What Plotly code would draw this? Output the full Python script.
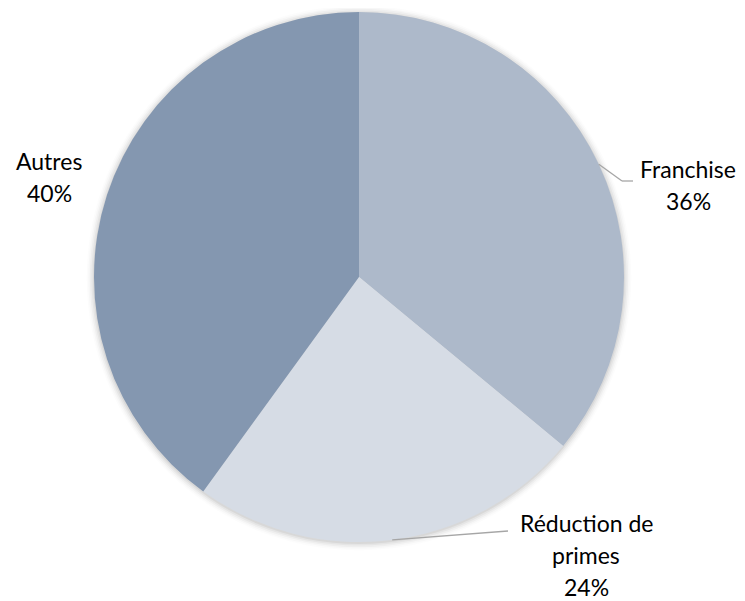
import math
import plotly.graph_objects as go

# ---- data ----
labels = ["Franchise", "Réduction de primes", "Autres"]
label_lines = [["Franchise"], ["Réduction de", "primes"], ["Autres"]]
values = [36, 24, 40]
colors = ["#ADB9CA", "#D6DCE5", "#8497B0"]

# ---- layout constants (pixels) ----
W, H = 745, 601
OFF = 8  # page body margin offset
CX, CY, R = 359 - OFF, 277 - OFF, 265
FONT = dict(family="Lato, Open Sans, sans-serif", size=23, color="#000000")
LINE_H = 32

def px(x):
    return x / W

def py(y):
    return 1 - y / H

fig = go.Figure()
fig.add_trace(go.Pie(
    labels=labels, values=values, sort=False, direction="clockwise", rotation=0,
    marker=dict(colors=colors, line=dict(width=0)),
    textinfo="none", hoverinfo="label+percent", showlegend=False,
    domain=dict(x=[px(CX - R), px(CX + R)], y=[py(CY + R), py(CY - R)]),
))

shapes = []
# soft shadow halo behind the pie
for i, a in enumerate([0.05, 0.04, 0.03, 0.02, 0.012]):
    rr = R + 1 + i * 1.6
    shapes.append(dict(type="circle", xref="paper", yref="paper", layer="below",
                       x0=px(CX - rr), x1=px(CX + rr), y0=py(CY + rr + 1), y1=py(CY - rr + 1),
                       fillcolor=f"rgba(0,0,0,{a})", line=dict(width=0)))

annotations = []
total = sum(values)
cum = 0
# label placement (style): text center x, first-line baseline y, leader end points
label_pos = [
    dict(tx=688, ty=180, leader=[(622, 181), (633, 181)]),
    dict(tx=586, ty=534, leader=[(508, 531)]),
    dict(tx=49, ty=172, leader=None),
]
for i, v in enumerate(values):
    mid = (cum + v / 2) / total
    cum += v
    ang = 2 * math.pi * mid
    ex, ey = CX + R * math.sin(ang), CY - R * math.cos(ang)
    lp = label_pos[i]
    if lp["leader"]:
        pts = [(ex, ey)] + [(x - OFF, y - OFF) for x, y in lp["leader"]]
        for (x0, y0), (x1, y1) in zip(pts[:-1], pts[1:]):
            shapes.append(dict(type="line", xref="paper", yref="paper",
                               x0=px(x0), y0=py(y0), x1=px(x1), y1=py(y1),
                               line=dict(color="#A6A6A6", width=1.3)))
    lines = label_lines[i] + [f"{round(100 * v / total)}%"]
    for k, t in enumerate(lines):
        base = lp["ty"] - OFF + k * LINE_H
        annotations.append(dict(text=t, xref="paper", yref="paper",
                                x=px(lp["tx"] - OFF), y=py(base + 5), xanchor="center", yanchor="bottom",
                                showarrow=False, font=FONT))

fig.update_layout(
    width=W, height=H, margin=dict(l=0, r=0, t=0, b=0),
    paper_bgcolor="white", plot_bgcolor="white",
    shapes=shapes, annotations=annotations,
)
fig.write_html("out.html")
